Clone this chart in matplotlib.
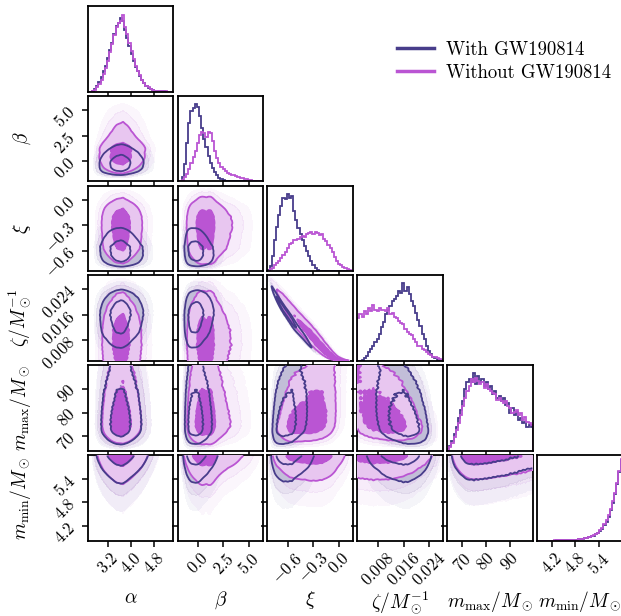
import math
import numpy as np
import matplotlib
matplotlib.use("Agg")
import matplotlib.pyplot as plt
from matplotlib.colors import to_rgb
from matplotlib.lines import Line2D

plt.rcParams['mathtext.fontset'] = 'cm'
plt.rcParams['font.family'] = ['cmr10', 'DejaVu Serif']
plt.rcParams['axes.unicode_minus'] = False

# ---------------- data ----------------
LABELS = [r"$\alpha$", r"$\beta$", r"$\xi$", r"$\zeta/M_\odot^{-1}$",
          r"$m_{\rm max}/M_\odot$", r"$m_{\rm min}/M_\odot$"]
RANGES = [(2.47, 5.49), (-1.95, 6.39), (-0.837, 0.166), (0.0015, 0.0283),
          (64.0, 99.7), (3.825, 6.0)]
TICKS = [[3.2, 4.0, 4.8], [0.0, 2.5, 5.0], [-0.6, -0.3, 0.0],
         [0.008, 0.016, 0.024], [70, 80, 90], [4.2, 4.8, 5.4]]
TICK_LABELS = [["3.2", "4.0", "4.8"], ["0.0", "2.5", "5.0"], ["-0.6", "-0.3", "0.0"],
               ["0.008", "0.016", "0.024"], ["70", "80", "90"], ["4.2", "4.8", "5.4"]]
SERIES = ["With GW190814", "Without GW190814"]

# 1D histograms (40 bins over each axis range), height as fraction of panel
alpha_with = [0, 0, 0.01, 0.03, 0.07, 0.11, 0.17, 0.24, 0.30, 0.39, 0.48, 0.57, 0.67, 0.77, 0.80,
              0.86, 0.82, 0.72, 0.63, 0.53, 0.44, 0.36, 0.29, 0.24, 0.18, 0.14, 0.10, 0.07, 0.045,
              0.03, 0.018, 0.01, 0.006, 0.004, 0.002, 0.001, 0, 0, 0, 0]
alpha_without = [0, 0, 0.005, 0.02, 0.05, 0.09, 0.14, 0.21, 0.28, 0.36, 0.46, 0.56, 0.66, 0.76,
                 0.80, 0.83, 0.90, 0.76, 0.67, 0.57, 0.47, 0.38, 0.30, 0.24, 0.19, 0.14, 0.10,
                 0.07, 0.05, 0.03, 0.02, 0.012, 0.007, 0.004, 0.002, 0.001, 0.001, 0, 0, 0]
beta_with = [0, 0.01, 0.05, 0.2, 0.45, 0.68, 0.82, 0.86, 0.90, 0.87, 0.76, 0.62, 0.50, 0.40, 0.30,
             0.22, 0.16, 0.11, 0.07, 0.045, 0.028, 0.016, 0.009, 0.005, 0.003, 0.002, 0.001,
             0, 0, 0, 0, 0, 0, 0, 0, 0, 0, 0, 0, 0]
beta_without = [0, 0.005, 0.02, 0.05, 0.09, 0.15, 0.22, 0.29, 0.36, 0.45, 0.54, 0.58, 0.56, 0.52,
                0.58, 0.57, 0.47, 0.36, 0.27, 0.21, 0.17, 0.14, 0.12, 0.10, 0.09, 0.08, 0.07,
                0.06, 0.05, 0.04, 0.035, 0.03, 0.025, 0.02, 0.015, 0.01, 0.008, 0.005, 0.003, 0.002]
xi_with = [0.01, 0.06, 0.18, 0.36, 0.52, 0.66, 0.76, 0.86, 0.84, 0.90, 0.85, 0.88, 0.70, 0.60,
           0.50, 0.43, 0.36, 0.30, 0.24, 0.18, 0.12, 0.07, 0.035, 0.015, 0.006, 0.002,
           0, 0, 0, 0, 0, 0, 0, 0, 0, 0, 0, 0, 0, 0]
xi_without = [0.005, 0.02, 0.04, 0.07, 0.10, 0.12, 0.15, 0.19, 0.23, 0.27, 0.32, 0.33, 0.36, 0.37,
              0.38, 0.40, 0.41, 0.40, 0.43, 0.45, 0.46, 0.44, 0.46, 0.45, 0.42, 0.43, 0.38, 0.35,
              0.31, 0.27, 0.22, 0.17, 0.12, 0.09, 0.07, 0.05, 0.035, 0.02, 0.01, 0.004]
zeta_with = [0, 0, 0.01, 0.03, 0.06, 0.10, 0.14, 0.18, 0.22, 0.26, 0.32, 0.40, 0.46, 0.55, 0.60,
             0.64, 0.70, 0.72, 0.76, 0.82, 0.80, 0.91, 0.82, 0.86, 0.78, 0.70, 0.64, 0.56, 0.48,
             0.41, 0.32, 0.26, 0.18, 0.12, 0.08, 0.05, 0.03, 0.015, 0.008, 0.003]
zeta_without = [0.50, 0.55, 0.52, 0.58, 0.55, 0.62, 0.58, 0.66, 0.60, 0.58, 0.62, 0.60, 0.60, 0.58,
                0.62, 0.55, 0.56, 0.52, 0.50, 0.47, 0.45, 0.43, 0.38, 0.34, 0.32, 0.30, 0.26,
                0.22, 0.18, 0.17, 0.14, 0.13, 0.10, 0.08, 0.07, 0.05, 0.05, 0.03, 0.02, 0.01]
mmax_with = [0.02, 0.06, 0.12, 0.20, 0.28, 0.38, 0.48, 0.58, 0.72, 0.80, 0.84, 0.80, 0.91, 0.78,
             0.88, 0.80, 0.84, 0.76, 0.80, 0.72, 0.76, 0.66, 0.70, 0.62, 0.64, 0.58, 0.62, 0.54,
             0.56, 0.44, 0.50, 0.42, 0.46, 0.36, 0.38, 0.32, 0.34, 0.28, 0.30, 0.28]
mmax_without = [0.01, 0.04, 0.09, 0.16, 0.24, 0.32, 0.42, 0.52, 0.62, 0.70, 0.76, 0.84, 0.80, 0.85,
                0.82, 0.78, 0.80, 0.74, 0.78, 0.72, 0.70, 0.68, 0.66, 0.60, 0.62, 0.58, 0.56,
                0.58, 0.52, 0.50, 0.44, 0.46, 0.48, 0.42, 0.44, 0.36, 0.40, 0.34, 0.32, 0.30]
mmin_with = [0, 0, 0, 0.001, 0.001, 0.001, 0.002, 0.002, 0.002, 0.003, 0.003, 0.004, 0.004, 0.005,
             0.006, 0.007, 0.008, 0.010, 0.012, 0.015, 0.018, 0.022, 0.027, 0.033, 0.040, 0.050,
             0.060, 0.075, 0.09, 0.11, 0.14, 0.18, 0.22, 0.28, 0.36, 0.44, 0.55, 0.66, 0.80, 0.94]
mmin_without = [0, 0, 0.001, 0.001, 0.001, 0.002, 0.002, 0.002, 0.003, 0.003, 0.004, 0.004, 0.005,
                0.005, 0.006, 0.007, 0.009, 0.011, 0.013, 0.016, 0.019, 0.023, 0.028, 0.034, 0.042,
                0.052, 0.063, 0.078, 0.095, 0.12, 0.15, 0.19, 0.24, 0.30, 0.37, 0.46, 0.56, 0.68,
                0.82, 0.95]

# pairwise rank correlations (order: alpha, beta, xi, zeta, mmax, mmin)
corr_with = [[1, 0.05, -0.05, 0.05, 0.0, 0.0],
             [0.05, 1, -0.10, 0.10, 0.0, 0.0],
             [-0.05, -0.10, 1, -0.985, 0.20, 0.05],
             [0.05, 0.10, -0.985, 1, -0.25, -0.05],
             [0.0, 0.0, 0.20, -0.25, 1, 0.05],
             [0.0, 0.0, 0.05, -0.05, 0.05, 1]]
corr_without = [[1, 0.05, 0.0, 0.0, 0.0, 0.0],
                [0.05, 1, 0.0, 0.0, 0.0, 0.0],
                [0.0, 0.0, 1, -0.96, 0.20, 0.0],
                [0.0, 0.0, -0.96, 1, -0.25, 0.0],
                [0.0, 0.0, 0.20, -0.25, 1, 0.0],
                [0.0, 0.0, 0.0, 0.0, 0.0, 1]]

HISTS = [[alpha_with, beta_with, xi_with, zeta_with, mmax_with, mmin_with],
         [alpha_without, beta_without, xi_without, zeta_without, mmax_without, mmin_without]]
CORRS = [corr_with, corr_without]
COLORS = ["darkslateblue", "mediumorchid"]
LEVELS = [0.393, 0.865]

# ---------------- helpers ----------------
Z_TAB = np.linspace(-6.5, 6.5, 2601)
PHI_TAB = 0.5 * (1 + np.array([math.erf(z / math.sqrt(2)) for z in Z_TAB]))
NG = 110


def marginal(heights, lo, hi, x):
    h = np.asarray(heights, float)
    n = len(h)
    edges = np.linspace(lo, hi, n + 1)
    centers = 0.5 * (edges[1:] + edges[:-1])
    h = h + 1e-4 * h.max()
    fine = np.linspace(lo, hi, 3001)
    ff = np.interp(fine, centers, h)
    cdf = np.concatenate([[0], np.cumsum(0.5 * (ff[1:] + ff[:-1]) * np.diff(fine))])
    tot = cdf[-1]
    return np.interp(x, fine, ff) / tot, np.interp(x, fine, cdf) / tot


def grid(k):
    lo, hi = RANGES[k]
    d = (hi - lo) / NG
    return lo + (np.arange(NG) + 0.5) * d


def density(d, kx, ky):
    x, y = grid(kx), grid(ky)
    fx, Fx = marginal(HISTS[d][kx], *RANGES[kx], x)
    fy, Fy = marginal(HISTS[d][ky], *RANGES[ky], y)
    zx = np.interp(np.clip(Fx, 1e-10, 1 - 1e-10), PHI_TAB, Z_TAB)
    zy = np.interp(np.clip(Fy, 1e-10, 1 - 1e-10), PHI_TAB, Z_TAB)
    rho = CORRS[d][kx][ky]
    ZX, ZY = np.meshgrid(zx, zy)
    q = (ZX ** 2 - 2 * rho * ZX * ZY + ZY ** 2) / (1 - rho ** 2) - (ZX ** 2 + ZY ** 2)
    c = np.exp(-0.5 * q) / np.sqrt(1 - rho ** 2)
    return x, y, c * np.outer(fy, fx)


def mass_levels(H, masses):
    flat = np.sort(H.ravel())[::-1]
    cum = np.cumsum(flat)
    cum /= cum[-1]
    return [flat[min(np.searchsorted(cum, m), len(flat) - 1)] for m in masses]


def lighten(c, a):
    r = np.array(to_rgb(c))
    return tuple(1 - a + a * r)


# ---------------- figure ----------------
FW, FH = 621, 616
fig = plt.figure(figsize=(FW / 100, FH / 100), dpi=100)
K = 6
PW, PH = 85.6, 85.55
GAP = 0.05
LEFT, TOP = 87.7, 6.0

for i in range(K):
    for j in range(i + 1):
        x0 = LEFT + j * PW * (1 + GAP)
        y0 = TOP + i * PH * (1 + GAP)
        ax = fig.add_axes([x0 / FW, 1 - (y0 + PH) / FH, PW / FW, PH / FH])
        for s in ax.spines.values():
            s.set_linewidth(1.3)
        ax.tick_params(direction='out', length=4, width=1.1, labelsize=12, pad=2.5)
        ax.set_xlim(*RANGES[j])
        ax.set_xticks(TICKS[j])
        if i == K - 1:
            ax.set_xticklabels(["$%s$" % t for t in TICK_LABELS[j]], rotation=45)
            ax.set_xlabel(LABELS[j], fontsize=14)
            ax.xaxis.set_label_coords(0.5, -0.57)
        else:
            ax.set_xticklabels([])
        if i == j:
            for d in range(2):
                edges = np.linspace(*RANGES[i], len(HISTS[d][i]) + 1)
                ax.stairs(HISTS[d][i], edges, color=COLORS[d], lw=1.3, baseline=0)
            ax.set_ylim(0, 1)
            ax.set_yticks([])
            continue
        ax.set_ylim(*RANGES[i])
        ax.set_yticks(TICKS[i])
        if j == 0:
            ax.set_yticklabels(["$%s$" % t for t in TICK_LABELS[i]], rotation=45)
            ax.set_ylabel(LABELS[i], fontsize=14)
            ax.yaxis.set_label_coords(-0.64, 0.5)
        else:
            ax.set_yticklabels([])
        dens = []
        for d in range(2):
            x, y, H = density(d, j, i)
            v_in, v_out, v_a, v_b = mass_levels(H, [LEVELS[0], LEVELS[1], 0.95, 0.985])
            dens.append((x, y, H, v_in, v_out))
            r, g, b = to_rgb(COLORS[d])
            ax.contourf(x, y, H, levels=[v_b, v_a, v_out],
                        colors=[(r, g, b, 0.05), (r, g, b, 0.11)], zorder=1)
        # "With" dataset: light fill inside outer level
        x, y, H, v_in, v_out = dens[0]
        ax.contourf(x, y, H, levels=[v_out, H.max() * 1.01],
                    colors=[lighten(COLORS[0], 1 / 3)], zorder=2)
        # "Without" dataset: light fill + full fill
        x, y, H, v_in, v_out = dens[1]
        ax.contourf(x, y, H, levels=[v_out, v_in, H.max() * 1.01],
                    colors=[lighten(COLORS[1], 1 / 3), COLORS[1]], zorder=3)
        ax.contour(x, y, H, levels=[v_out, v_in], colors=[COLORS[1]], linewidths=1.3, zorder=4)
        x, y, H, v_in, v_out = dens[0]
        ax.contour(x, y, H, levels=[v_out, v_in], colors=[COLORS[0]], linewidths=1.3, zorder=5)
        ax.set_xlim(*RANGES[j])
        ax.set_ylim(*RANGES[i])

handles = [Line2D([], [], color=c, lw=2.5) for c in COLORS]
fig.legend(handles, SERIES, loc='upper left', bbox_to_anchor=(380 / FW, 1 - 24 / FH),
           frameon=False, prop={'family': 'cmr10', 'size': 13.5},
           handlelength=2.0, handletextpad=0.62, labelspacing=0.28)

fig.savefig("out.png", dpi=100)
